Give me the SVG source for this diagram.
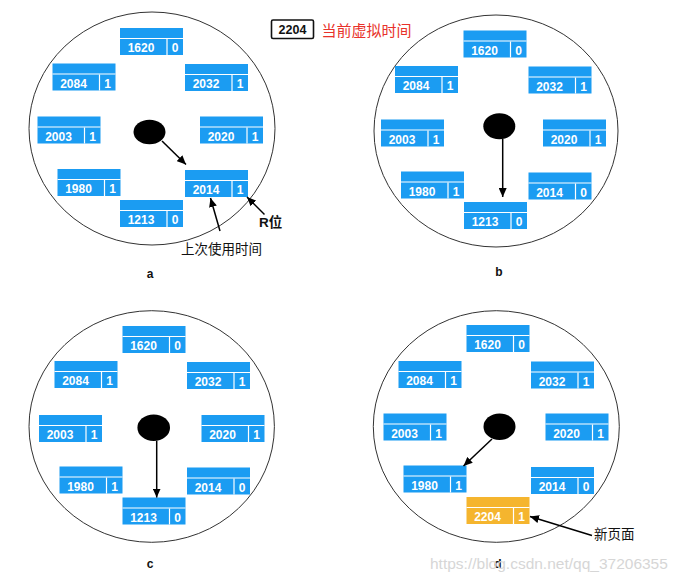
<svg xmlns="http://www.w3.org/2000/svg" width="683" height="583" viewBox="0 0 683 583">
<style>
.clock{fill:none;stroke:#333;stroke-width:1}
.hd{fill:#1b9cf2}
.og .hd{fill:#f5b52e}
.sep{stroke:#fff;stroke-width:1.2}
.num{font-family:"Liberation Sans",Arial,sans-serif;font-size:12px;font-weight:bold;fill:#fff;text-anchor:middle}
.hand{fill:#000}
.arr{stroke:#000;stroke-width:1.5;fill:none;marker-end:url(#ah)}
.lbl{font-family:"Liberation Sans",Arial,sans-serif;font-size:12px;font-weight:bold;fill:#111;text-anchor:middle}
.cn{font-family:"Liberation Sans","Noto Sans CJK SC",sans-serif;font-size:13.5px;fill:#111}
</style>
<defs>
<marker id="ah" markerUnits="userSpaceOnUse" markerWidth="9" markerHeight="8" refX="9" refY="4" orient="auto">
<path d="M0,0 L9,4 L0,8 z" fill="#000"/>
</marker>
</defs>
<rect width="683" height="583" fill="#fff"/>

<g id="current-time">
<rect x="271.5" y="20" width="42" height="18.5" rx="1.5" fill="#fff" stroke="#111" stroke-width="1.6"/>
<text x="292.5" y="34" font-family="Liberation Sans,Arial,sans-serif" font-size="12.5" font-weight="bold" fill="#111" text-anchor="middle">2204</text>
<text x="321.5" y="35.5" font-family="Liberation Sans,'Noto Sans CJK SC',sans-serif" font-size="15" fill="#e8322a">当前虚拟时间</text>
</g>

<!-- Panel a -->
<g id="panel-a">
<ellipse class="clock" cx="152" cy="128.5" rx="123" ry="116.5"/>
<ellipse id="a-hand" class="hand" cx="149.5" cy="132" rx="16" ry="12.2"/>
<g id="a-1620" transform="translate(120,28)"><rect class="hd" width="63" height="27"/><line class="sep" x1="0" y1="10.5" x2="63" y2="10.5"/><line class="sep" x1="47" y1="11" x2="47" y2="27"/><text class="num" x="21" y="24">1620</text><text class="num" x="55" y="24">0</text></g>
<g id="a-2084" transform="translate(52.5,63.5)"><rect class="hd" width="63" height="27"/><line class="sep" x1="0" y1="10.5" x2="63" y2="10.5"/><line class="sep" x1="47" y1="11" x2="47" y2="27"/><text class="num" x="21" y="24">2084</text><text class="num" x="55" y="24">1</text></g>
<g id="a-2032" transform="translate(185,64)"><rect class="hd" width="63" height="27"/><line class="sep" x1="0" y1="10.5" x2="63" y2="10.5"/><line class="sep" x1="47" y1="11" x2="47" y2="27"/><text class="num" x="21" y="24">2032</text><text class="num" x="55" y="24">1</text></g>
<g id="a-2003" transform="translate(37.5,116.5)"><rect class="hd" width="63" height="27"/><line class="sep" x1="0" y1="10.5" x2="63" y2="10.5"/><line class="sep" x1="47" y1="11" x2="47" y2="27"/><text class="num" x="21" y="24">2003</text><text class="num" x="55" y="24">1</text></g>
<g id="a-2020" transform="translate(200,116.5)"><rect class="hd" width="63" height="27"/><line class="sep" x1="0" y1="10.5" x2="63" y2="10.5"/><line class="sep" x1="47" y1="11" x2="47" y2="27"/><text class="num" x="21" y="24">2020</text><text class="num" x="55" y="24">1</text></g>
<g id="a-1980" transform="translate(57.5,169)"><rect class="hd" width="63" height="27"/><line class="sep" x1="0" y1="10.5" x2="63" y2="10.5"/><line class="sep" x1="47" y1="11" x2="47" y2="27"/><text class="num" x="21" y="24">1980</text><text class="num" x="55" y="24">1</text></g>
<g id="a-2014" transform="translate(185,170)"><rect class="hd" width="63" height="27"/><line class="sep" x1="0" y1="10.5" x2="63" y2="10.5"/><line class="sep" x1="47" y1="11" x2="47" y2="27"/><text class="num" x="21" y="24">2014</text><text class="num" x="55" y="24">1</text></g>
<g id="a-1213" transform="translate(120,200)"><rect class="hd" width="63" height="27"/><line class="sep" x1="0" y1="10.5" x2="63" y2="10.5"/><line class="sep" x1="47" y1="11" x2="47" y2="27"/><text class="num" x="21" y="24">1213</text><text class="num" x="55" y="24">0</text></g>
<text class="cn" x="259" y="226.5" font-weight="bold">R位</text>
<text class="cn" x="181" y="253.5">上次使用时间</text>
<text class="lbl" x="150" y="278">a</text>
</g>

<!-- Panel b -->
<g id="panel-b">
<ellipse class="clock" cx="496" cy="131" rx="122" ry="116"/>
<ellipse id="b-hand" class="hand" cx="499.3" cy="126.3" rx="16" ry="13"/>
<g id="b-1620" transform="translate(463.5,30.5)"><rect class="hd" width="63" height="27"/><line class="sep" x1="0" y1="10.5" x2="63" y2="10.5"/><line class="sep" x1="47" y1="11" x2="47" y2="27"/><text class="num" x="21" y="24">1620</text><text class="num" x="55" y="24">0</text></g>
<g id="b-2084" transform="translate(395,66)"><rect class="hd" width="63" height="27"/><line class="sep" x1="0" y1="10.5" x2="63" y2="10.5"/><line class="sep" x1="47" y1="11" x2="47" y2="27"/><text class="num" x="21" y="24">2084</text><text class="num" x="55" y="24">1</text></g>
<g id="b-2032" transform="translate(528.5,66.5)"><rect class="hd" width="63" height="27"/><line class="sep" x1="0" y1="10.5" x2="63" y2="10.5"/><line class="sep" x1="47" y1="11" x2="47" y2="27"/><text class="num" x="21" y="24">2032</text><text class="num" x="55" y="24">1</text></g>
<g id="b-2003" transform="translate(381,119.5)"><rect class="hd" width="63" height="27"/><line class="sep" x1="0" y1="10.5" x2="63" y2="10.5"/><line class="sep" x1="47" y1="11" x2="47" y2="27"/><text class="num" x="21" y="24">2003</text><text class="num" x="55" y="24">1</text></g>
<g id="b-2020" transform="translate(543,119.5)"><rect class="hd" width="63" height="27"/><line class="sep" x1="0" y1="10.5" x2="63" y2="10.5"/><line class="sep" x1="47" y1="11" x2="47" y2="27"/><text class="num" x="21" y="24">2020</text><text class="num" x="55" y="24">1</text></g>
<g id="b-1980" transform="translate(401,171.5)"><rect class="hd" width="63" height="27"/><line class="sep" x1="0" y1="10.5" x2="63" y2="10.5"/><line class="sep" x1="47" y1="11" x2="47" y2="27"/><text class="num" x="21" y="24">1980</text><text class="num" x="55" y="24">1</text></g>
<g id="b-2014" transform="translate(528.5,172.5)"><rect class="hd" width="63" height="27"/><line class="sep" x1="0" y1="10.5" x2="63" y2="10.5"/><line class="sep" x1="47" y1="11" x2="47" y2="27"/><text class="num" x="21" y="24">2014</text><text class="num" x="55" y="24">0</text></g>
<g id="b-1213" transform="translate(464,202)"><rect class="hd" width="63" height="27"/><line class="sep" x1="0" y1="10.5" x2="63" y2="10.5"/><line class="sep" x1="47" y1="11" x2="47" y2="27"/><text class="num" x="21" y="24">1213</text><text class="num" x="55" y="24">0</text></g>
<text class="lbl" x="499" y="276">b</text>
</g>

<!-- Panel c -->
<g id="panel-c">
<ellipse class="clock" cx="151.7" cy="426.5" rx="122.7" ry="115.8"/>
<ellipse id="c-hand" class="hand" cx="153.7" cy="427.7" rx="16.3" ry="13.3"/>
<g id="c-1620" transform="translate(122.5,326)"><rect class="hd" width="63" height="27"/><line class="sep" x1="0" y1="10.5" x2="63" y2="10.5"/><line class="sep" x1="47" y1="11" x2="47" y2="27"/><text class="num" x="21" y="24">1620</text><text class="num" x="55" y="24">0</text></g>
<g id="c-2084" transform="translate(54.5,361)"><rect class="hd" width="63" height="27"/><line class="sep" x1="0" y1="10.5" x2="63" y2="10.5"/><line class="sep" x1="47" y1="11" x2="47" y2="27"/><text class="num" x="21" y="24">2084</text><text class="num" x="55" y="24">1</text></g>
<g id="c-2032" transform="translate(187,362)"><rect class="hd" width="63" height="27"/><line class="sep" x1="0" y1="10.5" x2="63" y2="10.5"/><line class="sep" x1="47" y1="11" x2="47" y2="27"/><text class="num" x="21" y="24">2032</text><text class="num" x="55" y="24">1</text></g>
<g id="c-2003" transform="translate(39,415)"><rect class="hd" width="63" height="27"/><line class="sep" x1="0" y1="10.5" x2="63" y2="10.5"/><line class="sep" x1="47" y1="11" x2="47" y2="27"/><text class="num" x="21" y="24">2003</text><text class="num" x="55" y="24">1</text></g>
<g id="c-2020" transform="translate(201.5,415)"><rect class="hd" width="63" height="27"/><line class="sep" x1="0" y1="10.5" x2="63" y2="10.5"/><line class="sep" x1="47" y1="11" x2="47" y2="27"/><text class="num" x="21" y="24">2020</text><text class="num" x="55" y="24">1</text></g>
<g id="c-1980" transform="translate(59.5,466.5)"><rect class="hd" width="63" height="27"/><line class="sep" x1="0" y1="10.5" x2="63" y2="10.5"/><line class="sep" x1="47" y1="11" x2="47" y2="27"/><text class="num" x="21" y="24">1980</text><text class="num" x="55" y="24">1</text></g>
<g id="c-2014" transform="translate(187,467.5)"><rect class="hd" width="63" height="27"/><line class="sep" x1="0" y1="10.5" x2="63" y2="10.5"/><line class="sep" x1="47" y1="11" x2="47" y2="27"/><text class="num" x="21" y="24">2014</text><text class="num" x="55" y="24">0</text></g>
<g id="c-1213" transform="translate(122.5,497.5)"><rect class="hd" width="63" height="27"/><line class="sep" x1="0" y1="10.5" x2="63" y2="10.5"/><line class="sep" x1="47" y1="11" x2="47" y2="27"/><text class="num" x="21" y="24">1213</text><text class="num" x="55" y="24">0</text></g>
<text class="lbl" x="150" y="568">c</text>
</g>

<!-- Panel d -->
<g id="panel-d">
<ellipse class="clock" cx="496.3" cy="426.5" rx="123" ry="115.8"/>
<ellipse id="d-hand" class="hand" cx="499.5" cy="426.7" rx="16" ry="13.3"/>
<g id="d-1620" transform="translate(466.5,325)"><rect class="hd" width="63" height="27"/><line class="sep" x1="0" y1="10.5" x2="63" y2="10.5"/><line class="sep" x1="47" y1="11" x2="47" y2="27"/><text class="num" x="21" y="24">1620</text><text class="num" x="55" y="24">0</text></g>
<g id="d-2084" transform="translate(398.5,361)"><rect class="hd" width="63" height="27"/><line class="sep" x1="0" y1="10.5" x2="63" y2="10.5"/><line class="sep" x1="47" y1="11" x2="47" y2="27"/><text class="num" x="21" y="24">2084</text><text class="num" x="55" y="24">1</text></g>
<g id="d-2032" transform="translate(531,361.5)"><rect class="hd" width="63" height="27"/><line class="sep" x1="0" y1="10.5" x2="63" y2="10.5"/><line class="sep" x1="47" y1="11" x2="47" y2="27"/><text class="num" x="21" y="24">2032</text><text class="num" x="55" y="24">1</text></g>
<g id="d-2003" transform="translate(383.5,413.5)"><rect class="hd" width="63" height="27"/><line class="sep" x1="0" y1="10.5" x2="63" y2="10.5"/><line class="sep" x1="47" y1="11" x2="47" y2="27"/><text class="num" x="21" y="24">2003</text><text class="num" x="55" y="24">1</text></g>
<g id="d-2020" transform="translate(545.5,413.5)"><rect class="hd" width="63" height="27"/><line class="sep" x1="0" y1="10.5" x2="63" y2="10.5"/><line class="sep" x1="47" y1="11" x2="47" y2="27"/><text class="num" x="21" y="24">2020</text><text class="num" x="55" y="24">1</text></g>
<g id="d-1980" transform="translate(403.5,465.5)"><rect class="hd" width="63" height="27"/><line class="sep" x1="0" y1="10.5" x2="63" y2="10.5"/><line class="sep" x1="47" y1="11" x2="47" y2="27"/><text class="num" x="21" y="24">1980</text><text class="num" x="55" y="24">1</text></g>
<g id="d-2014" transform="translate(531,467)"><rect class="hd" width="63" height="27"/><line class="sep" x1="0" y1="10.5" x2="63" y2="10.5"/><line class="sep" x1="47" y1="11" x2="47" y2="27"/><text class="num" x="21" y="24">2014</text><text class="num" x="55" y="24">0</text></g>
<g id="d-2204" class="og" transform="translate(466.5,497)"><rect class="hd" width="63" height="27"/><line class="sep" x1="0" y1="10.5" x2="63" y2="10.5"/><line class="sep" x1="47" y1="11" x2="47" y2="27"/><text class="num" x="21" y="24">2204</text><text class="num" x="55" y="24">1</text></g>
<text class="cn" x="594" y="539" font-size="14">新页面</text>
<text class="lbl" x="498" y="568">d</text>
</g>

<g id="connectors">
<line class="arr" x1="162" y1="141" x2="186" y2="164.5"/>
<line class="arr" x1="220" y1="231" x2="210.5" y2="198"/>
<line class="arr" x1="264.5" y1="214.5" x2="247" y2="197"/>
<line class="arr" x1="502.7" y1="139" x2="502.7" y2="197"/>
<line class="arr" x1="156.7" y1="441" x2="156.7" y2="497.5"/>
<line class="arr" x1="492" y1="439" x2="463.5" y2="466"/>
<line class="arr" x1="592" y1="535.5" x2="530" y2="516.5"/>
</g>

<text x="430" y="569" font-family="Liberation Sans,Arial,sans-serif" font-size="15.5" fill="#d6d6d6">https://blog.csdn.net/qq_37206355</text>
</svg>
